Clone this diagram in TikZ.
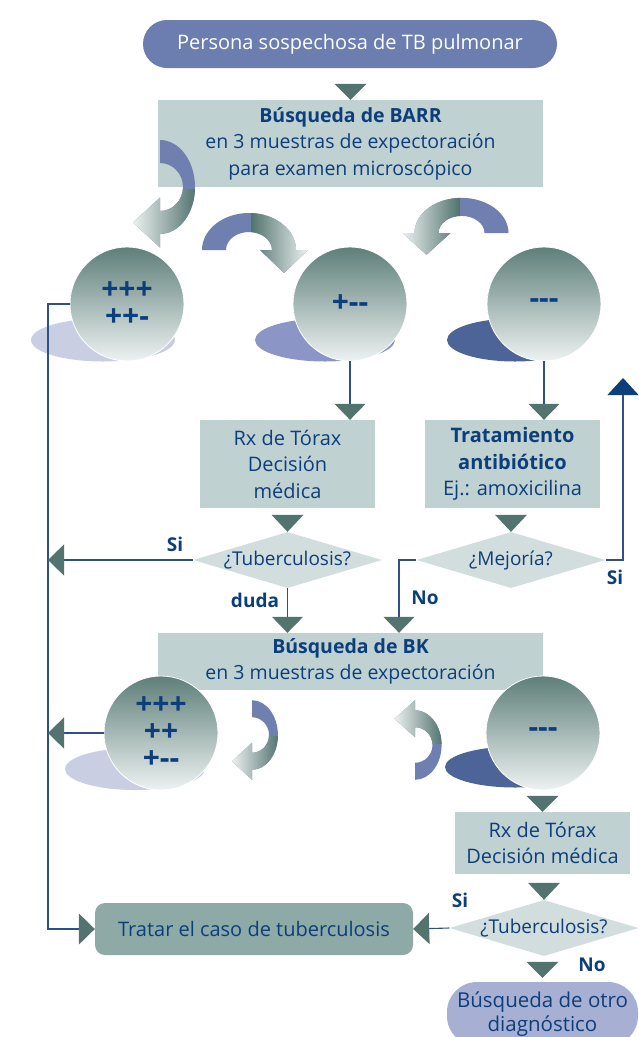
\documentclass[tikz,border=0pt]{standalone}
\usepackage{fontspec}
\setmainfont{Open Sans}
\usetikzlibrary{shapes.geometric,arrows.meta}

\definecolor{pillblue}{HTML}{6C7DAF}
\definecolor{boxgray}{HTML}{C0D1D1}
\definecolor{diamgray}{HTML}{D2DEDE}
\definecolor{tealc}{HTML}{52736E}
\definecolor{paleteal}{HTML}{EEF3F2}
\definecolor{navy}{HTML}{0D3E7C}
\definecolor{wirec}{HTML}{2E5088}
\definecolor{tratarc}{HTML}{8EAAA6}
\definecolor{otroc}{HTML}{A7B0D3}
\definecolor{ellL}{HTML}{C9CEE3}
\definecolor{ellM}{HTML}{8B95C6}
\definecolor{ellD}{HTML}{4C6498}
\definecolor{circtop}{HTML}{5E7F79}
\definecolor{circbot}{HTML}{EDF2F2}
\definecolor{curveblue}{HTML}{6E7FB0}

\def\bendApath{(0,-47) arc[start angle=-90,end angle=90,x radius=35,y radius=47] -- (0,60.5) -- (-27,35.5) -- (0,10.5) -- (0,24) arc[start angle=90,end angle=-90,x radius=23,y radius=24] -- cycle}
\def\bendBpath{(-47,0) arc[start angle=180,end angle=360,x radius=47,y radius=37] -- (59,0) -- (35,23) -- (11,0) -- (23,0) arc[start angle=0,end angle=-180,x radius=23,y radius=18] -- cycle}
\def\bendCpath{(47,0) arc[start angle=0,end angle=-180,x radius=47,y radius=37] -- (-59,0) -- (-35,23) -- (-11,0) -- (-23,0) arc[start angle=180,end angle=360,x radius=23,y radius=18] -- cycle}

\tikzset{
  pics/bendA/.style={code={
    \fill[curveblue] \bendApath;
    \begin{scope}
      \clip \bendApath;
      \shade[left color=paleteal,right color=tealc] (-28,2) rectangle (36,62);
    \end{scope}
  }},
  pics/bendB/.style={code={
    \fill[curveblue] \bendBpath;
    \begin{scope}
      \clip \bendBpath;
      \shade[left color=tealc,right color=paleteal] (2,-40) rectangle (60,24);
    \end{scope}
  }},
  pics/bendC/.style={code={
    \fill[curveblue] \bendCpath;
    \begin{scope}
      \clip \bendCpath;
      \shade[left color=paleteal,right color=tealc] (-60,-40) rectangle (-2,24);
    \end{scope}
  }}
}

\begin{document}
\begin{tikzpicture}[x=1pt,y=-1pt,font=\fontsize{20}{26.5}\selectfont,
  box/.style={fill=boxgray,text=navy,align=center,inner sep=0pt},
  pill/.style={fill=pillblue,text=white,rounded corners=24pt,minimum height=48pt,inner sep=0pt},
  diam/.style={diamond,fill=diamgray,text=navy,inner sep=0pt,shape aspect=3.4,minimum width=189pt,minimum height=56pt,font=\fontsize{19}{22}\selectfont},
  disc/.style={circle,minimum size=114pt,inner sep=0pt,top color=circtop,bottom color=circbot,draw=white,line width=0.8pt,text=navy,align=center,font=\bfseries\fontsize{30}{27}\selectfont},
  lbl/.style={text=navy,font=\bfseries\fontsize{19}{20}\selectfont},
  tri/.style={fill=tealc},
  wire/.style={draw=wirec,line width=1.1pt,-{Triangle[width=31pt,length=16pt,color=tealc]}}]
\useasboundingbox (0,0) rectangle (639,1037);

\node[pill,minimum width=414pt] (start) at (350,44) {Persona sospechosa de TB pulmonar};
\node[box,minimum width=385pt,minimum height=87pt,font=\fontsize{19.5}{26.5}\selectfont] (barr) at (350.5,143.5) {\textbf{Búsqueda de BARR}\\en 3 muestras de expectoración\\para examen microscópico};
\fill[tri] (barr.north) -- ++(-16,-16) -- ++(32,0) -- cycle;

\pic at (160,187) {bendA};
\pic at (249,250) {bendB};
\pic[yscale=0.95] at (461.5,233) {bendC};

\fill[ellL] (103,340) ellipse [x radius=72,y radius=21.5];
\fill[ellM] (325,340) ellipse [x radius=70,y radius=21.5];
\fill[ellD] (515,340) ellipse [x radius=68,y radius=21.5];
\node[disc] (c1) at (127,304) {+++\\++-};
\node[disc] (c2) at (350,304) {+{-}{-}};
\node[disc] (c3) at (544,304) {{-}{-}{-}};

\node[box,minimum width=175pt,minimum height=88pt] (rx1) at (287.5,464) {Rx de Tórax\\Decisión\\médica};
\node[box,minimum width=175pt,minimum height=88pt] (trat) at (512.5,464) {\textbf{Tratamiento}\\\textbf{antibiótico}\\Ej.: amoxicilina};
\node[diam] (d1) at (287.5,560) {¿Tuberculosis?};
\node[diam] (d2) at (511,560) {¿Mejoría?};
\fill[tri] (d1.north) -- ++(-16,-17) -- ++(32,0) -- cycle;
\fill[tri] (d2.north) -- ++(-16,-17) -- ++(32,0) -- cycle;

\node[box,minimum width=385pt,minimum height=57pt,font=\fontsize{19.5}{26.5}\selectfont] (bk) at (350.5,661.5) {\textbf{Búsqueda de BK}\\en 3 muestras de expectoración};

\pic[scale=0.74] at (252,735) {bendA};
\pic[xscale=0.76,yscale=-0.74] at (415,745) {bendA};

\fill[ellL] (135,769) ellipse [x radius=70,y radius=21];
\fill[ellD] (515,767) ellipse [x radius=70,y radius=20.5];
\node[disc] (c4) at (161,733) {+++\\++\\+{-}{-}};
\node[disc] (c5) at (543,733) {{-}{-}{-}};

\node[box,minimum width=175pt,minimum height=62pt] (rx2) at (542.5,843) {Rx de Tórax\\Decisión médica};
\node[diam] (d3) at (544,928) {¿Tuberculosis?};
\node[box,fill=tratarc,rounded corners=10pt,minimum width=318pt,minimum height=52pt] (tratar) at (254,929) {Tratar el caso de tuberculosis};
\node[box,fill=otroc,rounded corners=30pt,minimum width=191pt,minimum height=64pt,font=\fontsize{20.5}{24.5}\selectfont] (otro) at (542.5,1014) {Búsqueda de otro\\diagnóstico};
\fill[tri] (rx2.north) -- ++(-16,-16) -- ++(32,0) -- cycle;
\fill[tri] (d3.north) -- ++(-16,-17) -- ++(32,0) -- cycle;
\fill[tri] (otro.north) ++(0,-4) -- ++(-16,-16) -- ++(32,0) -- cycle;

\coordinate (rail) at (48,304);
\coordinate (nobend) at (399,560);
\coordinate (siend) at (623,378);
\draw[wire] (c1.west) -- (rail) |- (tratar.west);
\draw[wire] (d1.west) -- (rail |- d1.west);
\draw[wire] (c4.west) -- (rail |- c4.west);
\draw[wire] (c2.south) -- (c2.south |- rx1.north);
\draw[wire] (c3.south) -- (c3.south |- trat.north);
\draw[wire] (d1.south) -- (d1.south |- bk.north);
\draw[wire] (d2.west) -- (nobend) -- (nobend |- bk.north);
\draw[wire,-{Triangle[width=31pt,length=17pt,color=navy]}] (d2.east) -| (siend);
\draw[wire] (d3.west) -- (tratar.east);

\node[lbl] at (175,544) {Si};
\node[lbl] at (255,600) {duda};
\node[lbl] at (425,598) {No};
\node[lbl] at (615,577) {Si};
\node[lbl] at (460,900) {Si};
\node[lbl] at (592,965) {No};
\end{tikzpicture}
\end{document}
